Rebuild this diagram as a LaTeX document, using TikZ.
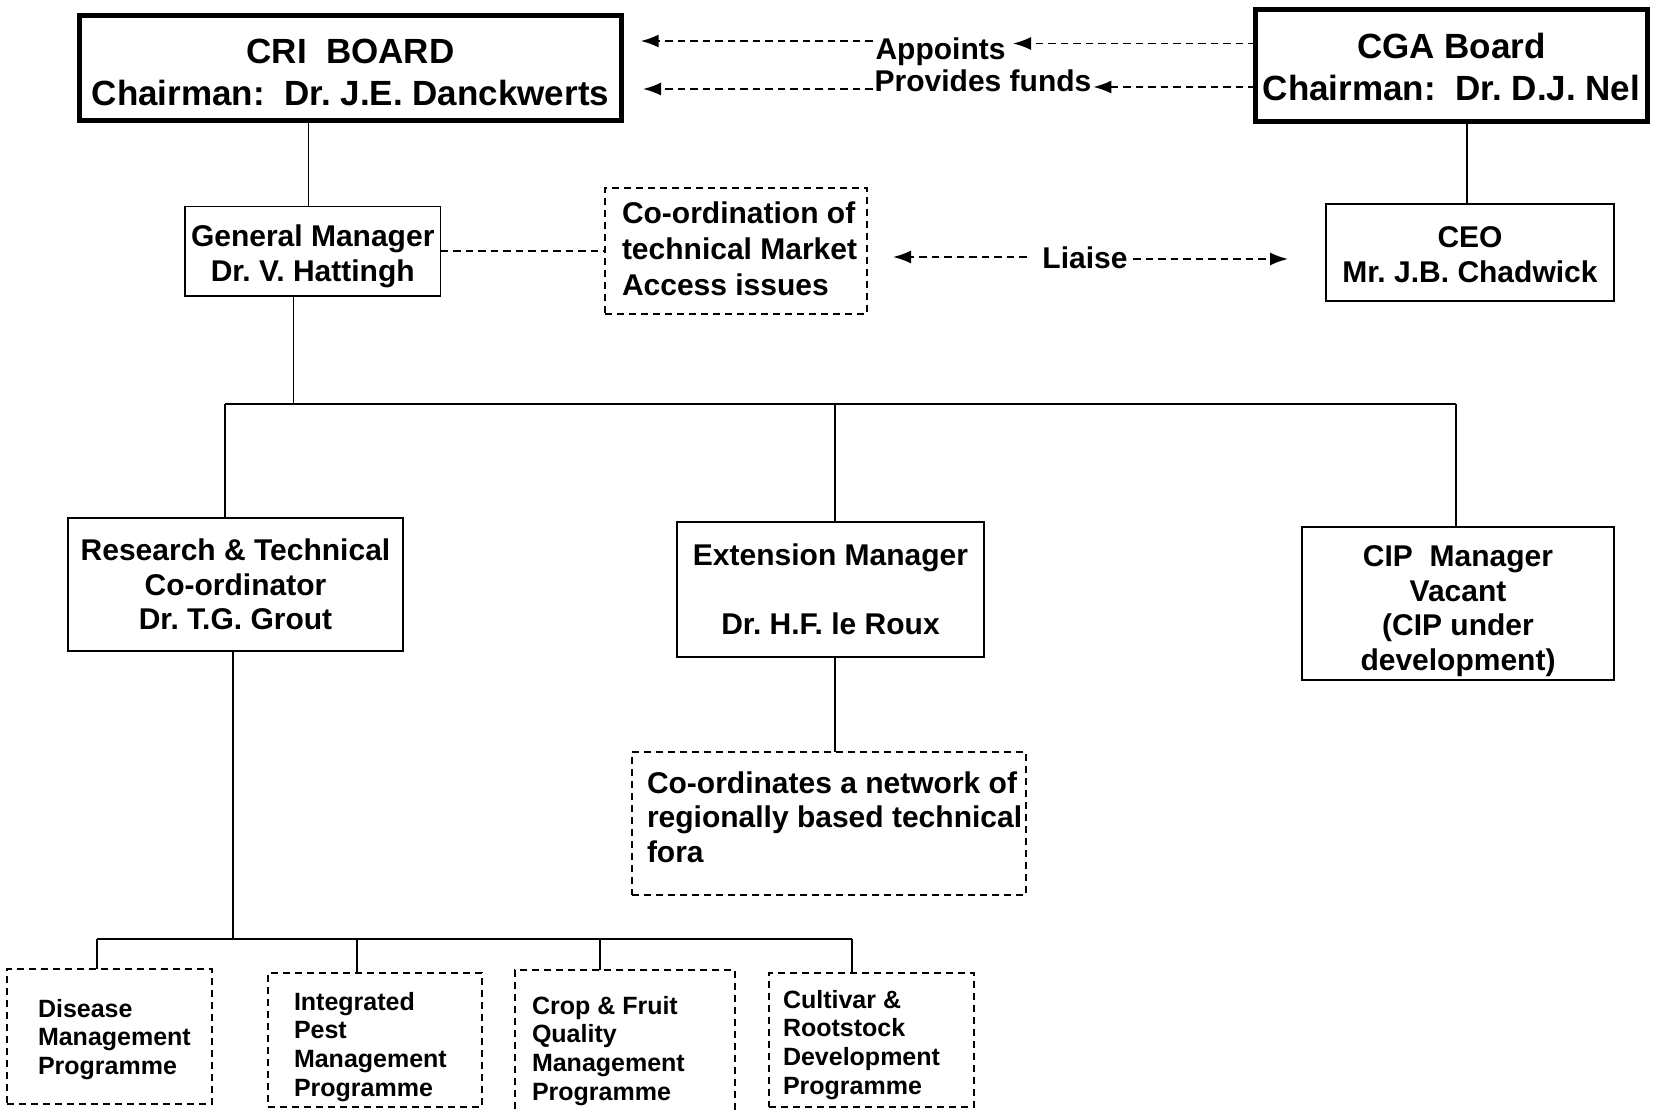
\documentclass[tikz,border=0pt]{standalone}
\usepackage{fontspec}
\setmainfont{Liberation Sans}
\usetikzlibrary{arrows.meta}
\frenchspacing
\newcommand{\toppad}[1]{\rule{0pt}{#1}}
\begin{document}
\begin{tikzpicture}[x=1pt,y=-1pt,
  every node/.style={inner sep=0pt,outer sep=0pt},
  fbig/.style={font=\fontsize{35}{42}\selectfont\bfseries},
  fmid/.style={font=\fontsize{30}{35}\selectfont\bfseries},
  fsmall/.style={font=\fontsize{25}{28.8}\selectfont\bfseries},
  thickbox/.style={draw,line width=5pt,align=center,fbig},
  solidbox/.style={draw,line width=1.8pt,align=center,fmid},
  dashbox/.style={draw,line width=1.8pt,dash pattern=on 7pt off 5pt},
  lefttext/.style={align=left,anchor=north west},
  conn/.style={line width=1.8pt},
  dline/.style={line width=1.8pt,dash pattern=on 7.5pt off 5pt},
  arr/.style={dline,-{Latex[length=18pt,width=13pt]}},
  lbl/.style={fmid,anchor=base},
]
\useasboundingbox[fill=white] (0,0) rectangle (1654,1110);

% ---- top boards
\node[thickbox,minimum width=542pt,minimum height=105pt] (cri) at (350.5,68)
  {\toppad{32.5pt}CRI\ \ BOARD\\Chairman:\ \ Dr. J.E. Danckwerts};
\node[thickbox,minimum width=392pt,minimum height=112pt] (cga) at (1451.5,65.5)
  {\toppad{28.5pt}CGA Board\\Chairman:\ \ Dr. D.J. Nel};

% ---- labels between boards
\node[lbl] (appoints) at (940.5,60) {Appoints};
\node[lbl] (funds) at (983,92) {Provides funds};
\coordinate (apL) at (640.7,41);
\coordinate (fuL) at (643,89);
\draw[arr] (cga.west |- 0,43.5) -- ([xshift=7.5pt]appoints.east |- 0,43.5);
\draw[arr] ([xshift=-3pt]appoints.west |- apL) -- (apL);
\draw[arr] (cga.west |- 0,87) -- ([xshift=2pt]funds.east |- 0,87);
\draw[arr] ([xshift=-2pt]funds.west |- fuL) -- (fuL);

% ---- second row
\node[solidbox,minimum width=255.5pt,minimum height=89.5pt] (gm) at (312.75,251.25)
  {\toppad{32.5pt}General Manager\\Dr. V. Hattingh};
\node[dashbox,minimum width=262pt,minimum height=126pt] (coord) at (736,251) {};
\node[lefttext,font=\fontsize{30}{36}\selectfont\bfseries] (coordtext) at (622,201.8)
  {Co-ordination of\\technical Market\\Access issues};
\node[solidbox,minimum width=288pt,minimum height=97pt] (ceo) at (1470,252.5)
  {\toppad{25pt}CEO\\Mr. J.B. Chadwick};

\draw[conn] (cri.south -| 308.5,0) -- (gm.north -| 308.5,0);
\draw[conn] (cga.south -| 1467,0) -- (ceo.north -| 1467,0);
\draw[dline] (gm.east |- 0,250.7) -- (coord.west |- 0,250.7);

\node[lbl] (liaise) at (1085,268) {Liaise};
\coordinate (liL) at (893,257);
\coordinate (liR) at (1288,259);
\draw[arr] ([xshift=-15.5pt]liaise.west |- liL) -- (liL);
\draw[arr] ([xshift=5.5pt]liaise.east |- liR) -- (liR);

% ---- managers
\node[solidbox,minimum width=335pt,minimum height=133pt,font=\fontsize{30}{34.5}\selectfont\bfseries] (rtc) at (235.5,584.5)
  {Research \& Technical\\Co-ordinator\\Dr. T.G. Grout};
\node[solidbox,minimum width=307pt,minimum height=135.3pt] (ext) at (830.5,589.3)
  {Extension Manager\\[34.5pt]Dr. H.F. le Roux};
\node[solidbox,minimum width=312pt,minimum height=153pt,font=\fontsize{30}{34.7}\selectfont\bfseries] (cip) at (1458,603.5)
  {\toppad{36.5pt}CIP\ \ Manager\\Vacant\\(CIP under\\development)};

\coordinate (busG) at (293.5,404);
\coordinate (busL) at (225,404);
\coordinate (busM) at (835,404);
\coordinate (busR) at (1456,404);
\draw[conn] (gm.south -| busG) -- (busG);
\draw[conn] (busL) -- (busR);
\draw[conn] (busL) -- (rtc.north -| busL);
\draw[conn] (busM) -- (ext.north -| busM);
\draw[conn] (busR) -- (cip.north -| busR);

% ---- extension network box
\node[dashbox,minimum width=394pt,minimum height=143pt] (fora) at (829,823.5) {};
\node[lefttext,font=\fontsize{30}{34.5}\selectfont\bfseries] (foratext) at (647,771.7)
  {Co-ordinates a network of\\regionally based technical\\fora};
\draw[conn] (ext.south -| busM) -- (fora.north -| busM);

% ---- programmes
\node[dashbox,minimum width=205pt,minimum height=135pt] (dis) at (109.5,1036.5) {};
\node[lefttext,fsmall] (distext) at (38,999)
  {Disease\\Management\\Programme};
\node[dashbox,minimum width=214pt,minimum height=134pt] (ipm) at (375,1040) {};
\node[lefttext,fsmall] (ipmtext) at (294,992)
  {Integrated\\Pest\\Management\\Programme};
\node[dashbox,minimum width=220pt,minimum height=160pt] (crop) at (625,1050) {};
\node[lefttext,fsmall] (croptext) at (532,996)
  {Crop \& Fruit\\Quality\\Management\\Programme};
\node[dashbox,minimum width=205pt,minimum height=134pt] (cult) at (871.5,1040) {};
\node[lefttext,fsmall] (culttext) at (783,990)
  {Cultivar \&\\Rootstock\\Development\\Programme};

\coordinate (busT) at (233,939);
\coordinate (bus2L) at (97,939);
\coordinate (bus2R) at (852,939);
\coordinate (bus2a) at (357,939);
\coordinate (bus2b) at (600,939);
\draw[conn] (rtc.south -| busT) -- (busT);
\draw[conn] (bus2L) -- (bus2R);
\draw[conn] (bus2L) -- (dis.north -| bus2L);
\draw[conn] (bus2a) -- (ipm.north -| bus2a);
\draw[conn] (bus2b) -- (crop.north -| bus2b);
\draw[conn] (bus2R) -- (cult.north -| bus2R);
\end{tikzpicture}
\end{document}
